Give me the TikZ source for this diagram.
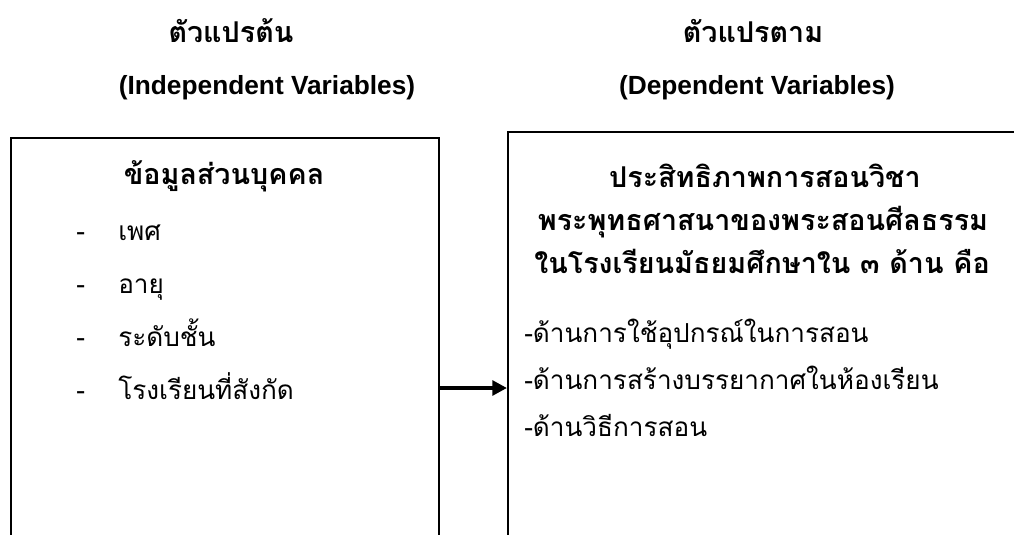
\documentclass[tikz,border=0pt]{standalone}
\usepackage{fontspec}
\setmainfont{Liberation Sans}
\newfontfamily\thaifont[Script=Thai]{Loma}
\usetikzlibrary{positioning,arrows.meta}

\tikzset{
  varbox/.style={draw=black,line width=1.4pt,anchor=north west,inner sep=0pt},
  headth/.style={font=\thaifont\bfseries\fontsize{21.5}{24}\selectfont,anchor=base,inner sep=0pt},
  heading/.style={font=\bfseries\fontsize{19.7}{22}\selectfont},
  itemth/.style={font=\thaifont\fontsize{19.6}{23}\selectfont,anchor=base west,inner sep=0pt},
}

\begin{document}
\begin{tikzpicture}[x=0.75pt,y=-0.75pt]
      \useasboundingbox (0,0) rectangle (1014,535);
      \clip (0,0) rectangle (1014,535);
      % headings
      \node[headth] (t_ind) at (231,43) {ตัวแปรต้น};
      \node[heading] (e_ind) at (267,88) {(Independent Variables)};
      \node[headth] (t_dep) at (753,43) {ตัวแปรตาม};
      \node[heading] (e_dep) at (757,88) {(Dependent Variables)};
      % boxes (cut off by the page)
      \node[varbox,minimum width=321pt,minimum height=330pt] (b_ind) at (10,137) {};
      \node[varbox,minimum width=420pt,minimum height=330pt] (b_dep) at (507,131) {};
      % left box
      \node[headth] (ind_title) at (224,184) {ข้อมูลส่วนบุคคล};
      \begin{scope}[every node/.style={itemth}]
        \node (d_1) at (76,240) {-};
        \node (d_2) at (76,293) {-};
        \node (d_3) at (76,346) {-};
        \node (d_4) at (76,399) {-};
        \node (i_1) at (118,240) {เพศ};
        \node (i_2) at (118,293) {อายุ};
        \node (i_3) at (118,346) {ระดับชั้น};
        \node (i_4) at (118,399) {โรงเรียนที่สังกัด};
      \end{scope}
      % right box
      \begin{scope}[every node/.style={headth}]
        \node (dep_1) at (765,187) {ประสิทธิภาพการสอนวิชา};
        \node (dep_2) at (763,230) {พระพุทธศาสนาของพระสอนศีลธรรม};
        \node (dep_3) at (762,273) {ในโรงเรียนมัธยมศึกษาใน ๓ ด้าน คือ};
      \end{scope}
      \begin{scope}[every node/.style={itemth}]
        \node (a_1) at (524,342) {-ด้านการใช้อุปกรณ์ในการสอน};
        \node (a_2) at (524,389) {-ด้านการสร้างบรรยากาศในห้องเรียน};
        \node (a_3) at (524,436) {-ด้านวิธีการสอน};
      \end{scope}
      % connector
      \coordinate (arr) at (0,388);
      \draw[line width=3.6pt,-{Triangle[length=11pt,width=11pt]}] (arr -| b_ind.east) -- (arr -| b_dep.west);
\end{tikzpicture}
\end{document}
